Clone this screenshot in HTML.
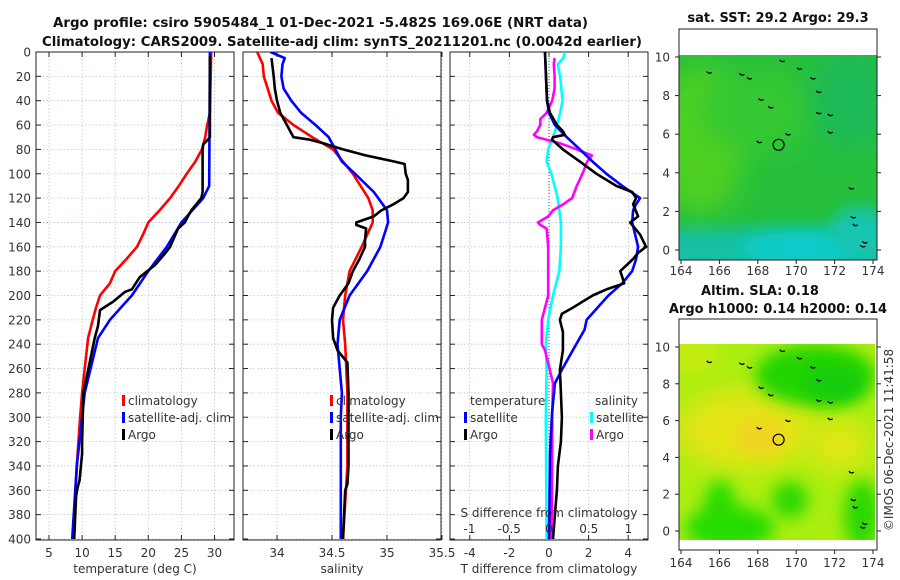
<!DOCTYPE html>
<html><head><meta charset="utf-8"><style>
html,body{margin:0;padding:0;background:#fff;}
svg{display:block;font-family:"DejaVu Sans","Liberation Sans",sans-serif;}
.tk{font-size:12px;fill:#333;}
.ttl{font-size:13px;font-weight:bold;fill:#111;}
</style></head><body>
<svg id="fig" width="900" height="580" viewBox="0 0 900 580" xmlns="http://www.w3.org/2000/svg">
<defs>
<filter id="blur8" x="-50%" y="-50%" width="200%" height="200%"><feGaussianBlur stdDeviation="8"/></filter>
<filter id="blur14" x="-50%" y="-50%" width="200%" height="200%"><feGaussianBlur stdDeviation="14"/></filter>
<clipPath id="clipTop"><rect x="679" y="55" width="198" height="205"/></clipPath>
<clipPath id="clipBot"><rect x="679" y="344" width="196" height="196"/></clipPath>
<clipPath id="c1"><rect x="36" y="52" width="198" height="488"/></clipPath>
<clipPath id="c2"><rect x="243" y="52" width="198" height="488"/></clipPath>
<clipPath id="c3"><rect x="450" y="52" width="198" height="488"/></clipPath>
</defs>
<text class="ttl" x="53" y="27" textLength="535" lengthAdjust="spacingAndGlyphs">Argo profile: csiro 5905484_1 01-Dec-2021 -5.482S 169.06E (NRT data)</text>
<text class="ttl" x="42" y="46" textLength="600" lengthAdjust="spacingAndGlyphs">Climatology: CARS2009. Satellite-adj clim: synTS_20211201.nc (0.0042d earlier)</text>
<g id="g"></g>

<!-- maps -->
<g>
<text class="ttl" x="778" y="22" text-anchor="middle">sat. SST: 29.2 Argo: 29.3</text>
<g clip-path="url(#clipTop)">
<rect x="679" y="55" width="198" height="205" fill="#26c03c"/>
<ellipse cx="700" cy="140" rx="45" ry="75" fill="#50d020" filter="url(#blur14)"/>
<ellipse cx="760" cy="110" rx="60" ry="40" fill="#34c830" filter="url(#blur14)"/>
<ellipse cx="850" cy="100" rx="40" ry="50" fill="#1cba58" filter="url(#blur14)"/>
<rect x="660" y="228" width="240" height="60" fill="#18c0a0" filter="url(#blur8)"/>
<ellipse cx="800" cy="248" rx="60" ry="16" fill="#0ccccc" filter="url(#blur8)"/>
<ellipse cx="860" cy="232" rx="30" ry="25" fill="#18c4b0" filter="url(#blur8)"/>
</g>
<rect x="679" y="29" width="198" height="231" fill="none" stroke="#222" stroke-width="1"/>
<g id="isl1" stroke="#000" stroke-width="1.3" fill="none"></g>
<circle cx="778.6" cy="144.8" r="5.5" fill="none" stroke="#000" stroke-width="1.2"/>
</g>
<g>
<text class="ttl" x="760" y="295" text-anchor="middle">Altim. SLA: 0.18</text>
<text class="ttl" x="778" y="313" text-anchor="middle">Argo h1000: 0.14 h2000: 0.14</text>
<g clip-path="url(#clipBot)">
<rect x="679" y="344" width="196" height="196" fill="#aaee10"/>
<ellipse cx="745" cy="430" rx="70" ry="40" fill="#e6e414" filter="url(#blur14)"/>
<ellipse cx="760" cy="437" rx="25" ry="18" fill="#f0d424" filter="url(#blur8)"/>
<ellipse cx="840" cy="445" rx="30" ry="25" fill="#e8e618" filter="url(#blur14)"/>
<ellipse cx="815" cy="375" rx="60" ry="30" fill="#22d400" filter="url(#blur8)"/>
<ellipse cx="835" cy="385" rx="30" ry="18" fill="#14cc10" filter="url(#blur8)"/>
<ellipse cx="730" cy="528" rx="45" ry="22" fill="#28dc00" filter="url(#blur8)"/>
<ellipse cx="720" cy="505" rx="15" ry="25" fill="#28dc00" filter="url(#blur8)"/>
<ellipse cx="790" cy="500" rx="18" ry="18" fill="#2cd800" filter="url(#blur8)"/>
<ellipse cx="862" cy="515" rx="18" ry="35" fill="#2cd800" filter="url(#blur8)"/>
<ellipse cx="690" cy="355" rx="30" ry="18" fill="#c4ec10" filter="url(#blur8)"/>
</g>
<rect x="679" y="319" width="198" height="231" fill="none" stroke="#222" stroke-width="1"/>
<g id="isl2" stroke="#000" stroke-width="1.3" fill="none"></g>
<circle cx="778.6" cy="439.7" r="5.5" fill="none" stroke="#000" stroke-width="1.2"/>
</g>
<text class="tk" transform="translate(893,440) rotate(-90)" text-anchor="middle">©IMOS 06-Dec-2021 11:41:58</text>
</svg>
<script>
// ---------- data ----------
const depthTicks=[0,20,40,60,80,100,120,140,160,180,200,220,240,260,280,300,320,340,360,380,400];
const tempTicks=[5,10,15,20,25,30];
const salTicks=[34,34.5,35,35.5];
const salTickLabels=["34","34.5","35","35.5"];
const tdTicks=[-4,-2,0,2,4];
const sdTicks=[-1,-0.5,0,0.5,1];
const sdTickLabels=["-1","-0.5","0","0.5","1"];
const lonTicks=[164,166,168,170,172,174];
const latTicks=[0,2,4,6,8,10];

const tClimDepth=[0,50,60,70,80,90,100,110,120,130,140,150,160,170,180,190,200,210,220,235,260,280,300,340,400];
const tClimVal=[29.5,29.3,28.9,28.6,28.1,27.1,25.8,24.6,23.3,21.7,20,19.2,18.3,16.7,15,14.2,12.7,12.1,11.6,10.9,10.4,10,9.7,9.2,8.6];
const tSatDepth=[0,110,120,140,160,180,200,220,235,280,300,340,400];
const tSatVal=[29.3,29.2,28.3,25,22.8,20,17.5,14.2,12.4,10.4,10,9.2,8.5];
const tArgoDepth=[3,70,72,76,80,115,120,130,140,145,160,165,175,185,195,197,205,212,225,235,280,320,330,352,358,365,400];
const tArgoVal=[29.3,29.3,29,28.3,28.2,28.2,28,26.5,25.5,24.5,23.3,22.6,21,18.7,17.5,16.5,14.7,12.7,12.4,11.9,10.2,10,10,9.6,9.3,9.1,8.8];

const sClimDepth=[0,10,20,40,50,60,70,80,100,120,130,140,160,180,200,220,240,280,340,400];
const sClimVal=[33.82,33.87,33.88,33.95,34.01,34.15,34.32,34.51,34.69,34.83,34.87,34.87,34.77,34.66,34.62,34.6,34.62,34.64,34.64,34.6];
const sSatDepth=[0,5,10,20,30,40,50,60,70,80,90,100,115,130,140,160,180,200,220,240,280,300,400];
const sSatVal=[33.94,34.07,34.05,34.04,34.06,34.13,34.22,34.35,34.47,34.53,34.59,34.71,34.88,35,35.01,34.94,34.82,34.66,34.57,34.55,34.59,34.58,34.58];
const sArgoDepth=[5,20,30,40,50,60,65,70,72,75,80,85,90,92,100,105,115,120,125,130,135,140,142,145,155,160,170,180,190,200,210,220,235,245,255,280,340,355,360,400];
const sArgoVal=[33.95,33.97,33.98,34,34.03,34.09,34.12,34.15,34.3,34.42,34.6,34.81,35.07,35.16,35.17,35.19,35.19,35.15,35.06,34.95,34.88,34.72,34.72,34.81,34.8,34.8,34.75,34.69,34.65,34.57,34.51,34.5,34.51,34.55,34.64,34.65,34.65,34.64,34.62,34.6];

const dTSatDepth=[0,20,40,50,60,70,80,90,100,110,120,125,130,140,160,170,180,190,200,220,228,245,261,272,297,330,400];
const dTSatVal=[-0.2,-0.15,-0.1,0,0.3,0.9,1.56,2.2,2.9,3.7,4.6,4.4,4.25,4.2,4.5,4.4,4.2,3.7,3,1.9,1.8,1.2,0.65,0.3,0.15,0.05,0];
const dTArgoDepth=[0,40,50,60,65,68,70,72,80,90,100,110,115,120,125,135,140,150,160,165,170,180,185,190,195,200,210,215,220,230,245,261,280,300,320,340,360,380,400];
const dTArgoVal=[-0.2,-0.1,0.05,0.4,0.7,0.8,0.2,0.15,0.7,1.56,2.4,3.4,4.2,4.4,4.25,4.5,4.1,4.6,4.9,4.5,4.25,3.6,3.7,3.8,2.9,2.2,1.2,0.65,0.55,0.7,0.7,0.55,0.6,0.65,0.6,0.45,0.4,0.3,0.2];
const dSSatDepth=[0,5,10,20,40,50,60,70,80,90,100,120,140,160,180,200,220,240,261,300,400];
const dSSatVal=[0.2,0.18,0.11,0.14,0.17,0.14,0.1,0.05,-0.01,-0.03,0.03,0.11,0.15,0.15,0.13,0.05,-0.01,-0.04,-0.03,-0.04,-0.03];
const dSArgoDepth=[5,10,20,30,40,50,55,60,65,68,70,72,75,80,85,90,100,110,120,125,130,135,140,142,145,160,180,200,210,220,240,245,261,272,300,340,400];
const dSArgoVal=[0.07,0.06,0.07,0.07,0.04,-0.03,-0.11,-0.11,-0.15,-0.19,-0.15,-0.03,0.14,0.35,0.54,0.48,0.42,0.35,0.29,0.18,0.05,-0.01,-0.14,-0.11,-0.03,-0.01,-0.01,-0.01,-0.05,-0.09,-0.09,-0.05,0.01,0.05,0.04,0.04,0.03];

const islandLon=[165.5,167.2,167.6,168.2,168.7,168.1,169.6,169.3,170.2,170.9,171.2,171.2,171.8,171.8,172.9,173.0,173.1,173.6,173.5];
const islandLat=[9.2,9.1,8.9,7.8,7.4,5.6,6.0,9.8,9.4,8.9,8.2,7.1,7.0,6.1,3.2,1.7,1.3,0.4,0.2];

// ---------- scales ----------
const Y0=52, YPX=487/400;
const yD=d=>Y0+d*YPX;
const xT=t=>49+(t-5)*6.62;
const xS=s=>277+(s-34)*110;
const xTD=v=>549+v*19.8;
const xSD=v=>549+v*79.5;
const NS="http://www.w3.org/2000/svg";
const G=document.getElementById('g');
function mk(tag,attrs,parent){const e=document.createElementNS(NS,tag);for(const k in attrs)e.setAttribute(k,attrs[k]);(parent||G).appendChild(e);return e;}
function txt(s,attrs,parent){const e=mk('text',attrs,parent);e.textContent=s;return e;}

const panels=[
 {x:36,clip:'c1',name:'temperature-panel',vt:tempTicks,vl:tempTicks.map(String),xf:xT,title:'temperature (deg C)'},
 {x:243,clip:'c2',name:'salinity-panel',vt:salTicks,vl:salTickLabels,xf:xS,title:'salinity'},
 {x:450,clip:'c3',name:'difference-panel',vt:tdTicks,vl:tdTicks.map(String),xf:xTD,title:'T difference from climatology'}
];
panels.forEach((p,i)=>{
 const pg=mk('g',{});
 
 
 const gridX = i==2 ? sdTicks.map(xSD) : p.vt.map(p.xf);
 gridX.forEach(x=>{
  const l=mk('line',{x1:x,x2:x,y1:52,y2:540,stroke:'#b8c4e0','stroke-width':0.8,'stroke-dasharray':'1.5,2'},pg);
  
  
 });
 depthTicks.forEach(d=>{
  const y=yD(d);
  const l=mk('line',{x1:p.x,x2:p.x+198,y1:y,y2:y,stroke:'#b8c4e0','stroke-width':0.8,'stroke-dasharray':'1.5,2'},pg);
  
  
  mk('line',{x1:p.x,x2:p.x+5,y1:y,y2:y,stroke:'#222'},pg);
  mk('line',{x1:p.x+198,x2:p.x+193,y1:y,y2:y,stroke:'#222'},pg);
 });
 p.vt.forEach((v,j)=>{
  const x=p.xf(v);
  mk('line',{x1:x,x2:x,y1:52,y2:57,stroke:'#222'},pg);
  mk('line',{x1:x,x2:x,y1:540,y2:535,stroke:'#222'},pg);
  const t=txt(p.vl[j],{class:'tk',x:x,y:557,'text-anchor':'middle'},pg);
  
  
 });
 const at=txt(p.title,{class:'tk',x:p.x+99,y:573,'text-anchor':'middle'},pg);
 
 
 const fr=mk('rect',{x:p.x,y:52,width:198,height:488,fill:'none',stroke:'#222','stroke-width':1},pg);
 
 
});
depthTicks.forEach(d=>{
 const t=txt(String(d),{class:'tk',x:31,y:yD(d)+4.5,'text-anchor':'end'});
 
 
});
const zl=mk('line',{x1:549,x2:549,y1:52,y2:540,stroke:'#555','stroke-width':1,'stroke-dasharray':'1,2'});



function series(depths,vals,xf,color,clip,name){
 const pts=depths.map((d,i)=>xf(vals[i]).toFixed(1)+','+yD(d).toFixed(1)).join(' ');
 const pl=mk('polyline',{points:pts,fill:'none',stroke:color,'stroke-width':2.6,'stroke-linejoin':'round','clip-path':'url(#'+clip+')'});
 
 
}
series(tClimDepth,tClimVal,xT,'#f00','c1','temperature-climatology-line');
series(tSatDepth,tSatVal,xT,'#00f','c1','temperature-satellite-line');
series(tArgoDepth,tArgoVal,xT,'#000','c1','temperature-argo-line');
series(sClimDepth,sClimVal,xS,'#f00','c2','salinity-climatology-line');
series(sSatDepth,sSatVal,xS,'#00f','c2','salinity-satellite-line');
series(sArgoDepth,sArgoVal,xS,'#000','c2','salinity-argo-line');
series(dSSatDepth,dSSatVal,xSD,'#0ff','c3','s-diff-satellite-line');
series(dSArgoDepth,dSArgoVal,xSD,'#f0f','c3','s-diff-argo-line');
series(dTSatDepth,dTSatVal,xTD,'#00f','c3','t-diff-satellite-line');
series(dTArgoDepth,dTArgoVal,xTD,'#000','c3','t-diff-argo-line');

sdTicks.forEach((v,j)=>{
 const t=txt(sdTickLabels[j],{class:'tk',x:xSD(v),y:533,'text-anchor':'middle'});
 
 
});
const st=txt('S difference from climatology',{class:'tk',x:549,y:517,'text-anchor':'middle'});



function legend(x,y,color,label,name){
 const m=mk('rect',{x:x,y:y-10,width:3,height:11,fill:color});
 
 
 const t=txt(label,{class:'tk',x:x+6,y:y,'font-size':'13px'});
 
 
}
legend(122,405,'#f00','climatology','legend-climatology');
legend(122,422,'#00f','satellite-adj. clim','legend-satellite-adj');
legend(122,439,'#000','Argo','legend-argo');
legend(330,405,'#f00','climatology','legend-s-climatology');
legend(330,422,'#00f','satellite-adj. clim','legend-s-satellite-adj');
legend(330,439,'#000','Argo','legend-s-argo');
const lt=txt('temperature',{class:'tk',x:470,y:405,'font-size':'13px'});


const ls=txt('salinity',{class:'tk',x:595,y:405,'font-size':'13px'});


legend(464,422,'#00f','satellite','legend-t-satellite');
legend(464,439,'#000','Argo','legend-t-argo');
legend(590,422,'#0ff','satellite','legend-s-satellite');
legend(590,439,'#f0f','Argo','legend-s-argo-diff');

const svg=document.getElementById('fig');
const mLon=l=>681+(l-164)*19.2;
const mLatT=l=>250-l*19.3;
const mLatB=l=>531-l*18.4;
[[mLatT,29,260,275],[mLatB,319,550,567]].forEach(([lf,top,bot,ly],k)=>{
 lonTicks.forEach(l=>{
  const x=mLon(l);
  mk('line',{x1:x,x2:x,y1:bot,y2:bot+4,stroke:'#222'},svg);
  const t=txt(String(l),{class:'tk',x:x,y:ly,'text-anchor':'middle'},svg);
  
  
 });
 latTicks.forEach(l=>{
  const y=lf(l);
  mk('line',{x1:675,x2:679,y1:y,y2:y,stroke:'#222'},svg);
  mk('line',{x1:877,x2:881,y1:y,y2:y,stroke:'#222'},svg);
  const t=txt(String(l),{class:'tk',x:670,y:y+4.5,'text-anchor':'end'},svg);
  
  
 });
});
[['isl1',mLatT],['isl2',mLatB]].forEach(([id,lf])=>{
 const g=document.getElementById(id);
 islandLon.forEach((lo,i)=>{
  const x=mLon(lo),y=lf(islandLat[i]);
  const p=mk('path',{d:`M${x-3},${y-1} q2,3 5,1`},g);
  
  
 });
});
</script>
</body></html>
